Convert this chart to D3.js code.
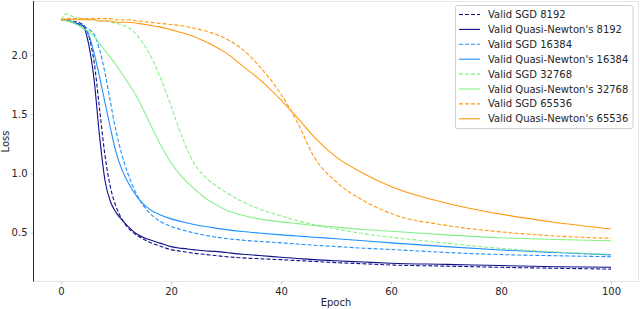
<!DOCTYPE html>
<html>
<head>
<meta charset="utf-8">
<script src="https://cdn.jsdelivr.net/npm/d3@7"></script>
<style>
  body { margin: 0; background: #fff; }
  text { font-family: "DejaVu Sans", sans-serif; fill: #262626; }
</style>
</head>
<body>
<svg id="chart" width="640" height="309"></svg>
<script>
var EPOCHS = [0, 1, 2, 4, 5, 6, 7, 8, 9, 10, 11, 12, 14, 16, 18, 20, 22, 24, 26, 28, 30, 33, 36, 40, 43, 46, 50, 55, 60, 70, 80, 90, 100];

var SGD_8192 = [2.30, 2.30, 2.29, 2.26, 2.17, 1.95, 1.55, 1.15, 0.88, 0.72, 0.62, 0.55, 0.47, 0.42, 0.385, 0.355, 0.34, 0.325, 0.315, 0.305, 0.295, 0.285, 0.278, 0.27, 0.262, 0.255, 0.245, 0.235, 0.225, 0.215, 0.205, 0.197, 0.19];
var QN_8192 = [2.30, 2.30, 2.28, 2.25, 2.10, 1.80, 1.32, 0.94, 0.76, 0.67, 0.61, 0.56, 0.48, 0.44, 0.41, 0.38, 0.365, 0.355, 0.345, 0.34, 0.33, 0.315, 0.305, 0.29, 0.28, 0.27, 0.26, 0.25, 0.24, 0.23, 0.22, 0.21, 0.205];
var SGD_16384 = [2.30, 2.30, 2.29, 2.25, 2.22, 2.18, 2.05, 1.85, 1.60, 1.36, 1.17, 1.02, 0.80, 0.67, 0.595, 0.552, 0.522, 0.498, 0.478, 0.462, 0.449, 0.435, 0.424, 0.412, 0.402, 0.392, 0.381, 0.367, 0.356, 0.331, 0.313, 0.303, 0.295];
var QN_16384 = [2.30, 2.30, 2.28, 2.23, 2.18, 2.02, 1.82, 1.60, 1.38, 1.18, 1.04, 0.94, 0.79, 0.70, 0.65, 0.615, 0.59, 0.57, 0.552, 0.537, 0.524, 0.508, 0.495, 0.48, 0.47, 0.46, 0.447, 0.43, 0.412, 0.38, 0.352, 0.33, 0.31];
var SGD_32768 = [2.30, 2.35, 2.33, 2.31, 2.30, 2.30, 2.29, 2.29, 2.28, 2.27, 2.26, 2.24, 2.16, 2.02, 1.82, 1.57, 1.31, 1.10, 0.98, 0.90, 0.84, 0.76, 0.70, 0.64, 0.60, 0.565, 0.53, 0.49, 0.46, 0.41, 0.365, 0.335, 0.315];
var QN_32768 = [2.30, 2.29, 2.28, 2.23, 2.20, 2.16, 2.10, 2.04, 1.98, 1.92, 1.85, 1.78, 1.63, 1.44, 1.25, 1.09, 0.97, 0.88, 0.80, 0.74, 0.69, 0.645, 0.615, 0.59, 0.575, 0.56, 0.545, 0.525, 0.51, 0.48, 0.455, 0.44, 0.43];
var SGD_65536 = [2.30, 2.31, 2.31, 2.31, 2.31, 2.31, 2.31, 2.31, 2.31, 2.30, 2.30, 2.30, 2.29, 2.28, 2.27, 2.26, 2.25, 2.23, 2.21, 2.18, 2.14, 2.05, 1.91, 1.67, 1.43, 1.14, 0.93, 0.77, 0.66, 0.56, 0.505, 0.47, 0.45];
var QN_65536 = [2.30, 2.30, 2.30, 2.30, 2.30, 2.30, 2.29, 2.29, 2.29, 2.28, 2.28, 2.28, 2.27, 2.255, 2.24, 2.215, 2.19, 2.16, 2.12, 2.075, 2.02, 1.91, 1.80, 1.62, 1.47, 1.31, 1.14, 1.00, 0.89, 0.75, 0.655, 0.585, 0.53];

var SERIES_NAMES = ["Valid SGD 8192", "Valid Quasi-Newton's 8192", "Valid SGD 16384", "Valid Quasi-Newton's 16384",
                    "Valid SGD 32768", "Valid Quasi-Newton's 32768", "Valid SGD 65536", "Valid Quasi-Newton's 65536"];
var SERIES_VALUES = [SGD_8192, QN_8192, SGD_16384, QN_16384, SGD_32768, QN_32768, SGD_65536, QN_65536];
var SERIES_COLORS = ["#101088", "#101088", "#1e90ff", "#1e90ff", "#86f086", "#86f086", "#ff9a10", "#ff9a10"];
var SERIES_DASHED = [true, false, true, false, true, false, true, false];

var X_TICKS = [0, 20, 40, 60, 80, 100];
var Y_TICKS = [0.5, 1.0, 1.5, 2.0];

var PLOT = {'left': 33.5, 'right': 638.5, 'top': 1.5, 'bottom': 281.5};

function main()
{
  var svg = d3.select('#chart');
  var x = d3.scaleLinear().domain([-5, 105]).range([PLOT.left, PLOT.right]);
  var y = d3.scaleLinear().domain([0.085, 2.455]).range([PLOT.bottom, PLOT.top]);

  // light frame, dark left spine
  svg.append('rect')
    .attr('x', PLOT.left).attr('y', PLOT.top)
    .attr('width', PLOT.right - PLOT.left).attr('height', PLOT.bottom - PLOT.top)
    .style('fill', 'none').style('stroke', '#e6e6e6').style('stroke-width', 1);

  var xAxis = svg.append('g')
    .attr('transform', 'translate(0,' + PLOT.bottom + ')')
    .call(d3.axisBottom(x).tickValues(X_TICKS).tickSize(3).tickPadding(3));
  xAxis.select('.domain').remove();
  xAxis.selectAll('line').style('stroke', '#cccccc');
  xAxis.selectAll('text').style('font-size', '10px').style('fill', '#262626');

  var yAxis = svg.append('g')
    .attr('transform', 'translate(' + PLOT.left + ',0)')
    .call(d3.axisLeft(y).tickValues(Y_TICKS).tickFormat(d3.format('.1f')).tickSize(3).tickPadding(3));
  yAxis.select('.domain').remove();
  yAxis.selectAll('line').style('stroke', '#cccccc');
  yAxis.selectAll('text').style('font-size', '10px').style('fill', '#262626');

  svg.append('line')
    .attr('x1', PLOT.left).attr('x2', PLOT.left)
    .attr('y1', PLOT.top - 0.5).attr('y2', PLOT.bottom)
    .style('stroke', '#262626').style('stroke-width', 1);

  svg.append('text')
    .attr('x', (PLOT.left + PLOT.right) / 2).attr('y', 306)
    .attr('text-anchor', 'middle').style('font-size', '10px')
    .text('Epoch');
  svg.append('text')
    .attr('transform', 'translate(9,' + ((PLOT.top + PLOT.bottom) / 2) + ') rotate(-90)')
    .attr('text-anchor', 'middle').style('font-size', '10px')
    .text('Loss');

  var line = d3.line()
    .x(function(d) { return x(d[0]); })
    .y(function(d) { return y(d[1]); })
    .curve(d3.curveMonotoneX);

  var linesGroup = svg.append('g').classed('curves', true);
  for (var i = 0; i < SERIES_VALUES.length; i++)
  {
    var pts = EPOCHS.map(function(e, j) { return [e, SERIES_VALUES[i][j]]; });
    linesGroup.append('path')
      .attr('d', line(pts))
      .style('fill', 'none')
      .style('stroke', SERIES_COLORS[i])
      .style('stroke-width', 1.1)
      .style('stroke-dasharray', SERIES_DASHED[i] ? '4,2' : null);
  }

  drawLegend(svg);
}

function drawLegend(svg)
{
  var lg = svg.append('g').classed('legend', true);
  var boxX = 455.5, boxY = 5.5, rowH = 14.9;
  lg.append('rect')
    .attr('x', boxX).attr('y', boxY)
    .attr('width', 177.5).attr('height', 123)
    .attr('rx', 2).attr('ry', 2)
    .style('fill', '#fff').style('fill-opacity', 0.85)
    .style('stroke', '#d0d0d0').style('stroke-width', 1);

  for (var i = 0; i < SERIES_NAMES.length; i++)
  {
    var yy = boxY + 9 + i * rowH;
    lg.append('line')
      .attr('x1', 459).attr('x2', 480)
      .attr('y1', yy).attr('y2', yy)
      .style('stroke', SERIES_COLORS[i])
      .style('stroke-width', 1.1)
      .style('stroke-dasharray', SERIES_DASHED[i] ? '4,2' : null);
    lg.append('text')
      .attr('x', 488).attr('y', yy + 3.5)
      .style('font-size', '10px')
      .text(SERIES_NAMES[i]);
  }
}

main();
</script>
</body>
</html>
